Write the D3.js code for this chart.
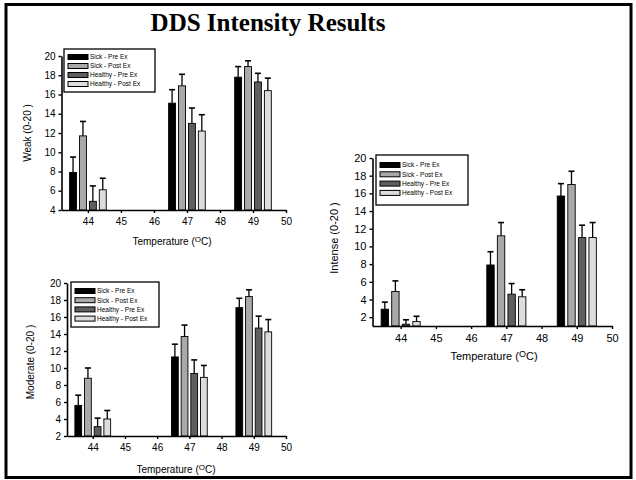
<!DOCTYPE html>
<html>
<head>
<meta charset="utf-8">
<script src="https://cdn.jsdelivr.net/npm/d3@7"></script>
<style>
body{margin:0;background:#fff}
svg{display:block;font-family:"Liberation Sans",Arial,sans-serif}
</style>
</head>
<body>
<div id="d3-container"></div>
<script>
// values
const temps = [44, 47, 49]
const groups = ["Sick - Pre Ex", "Sick - Post Ex", "Healthy - Pre Ex", "Healthy - Post Ex"]
const xTicks = [44, 45, 46, 47, 48, 49, 50]
const barOffsets = [-0.45, -0.15, 0.15, 0.45]

// rows = groups, columns = temps
const weakMeans = [
    [7.9, 15.1, 17.8],
    [11.7, 16.9, 18.9],
    [4.9, 13.0, 17.3],
    [6.1, 12.2, 16.4]
]
const weakSE = [
    [1.6, 1.4, 1.1],
    [1.5, 1.2, 0.6],
    [1.6, 1.6, 0.9],
    [1.2, 1.7, 1.3]
]
const moderateMeans = [
    [5.6, 11.3, 17.1],
    [8.8, 13.7, 18.4],
    [3.1, 9.35, 14.7],
    [4.0, 8.9, 14.25]
]
const moderateSE = [
    [1.2, 1.5, 1.1],
    [1.2, 1.35, 0.8],
    [1.0, 1.6, 1.4],
    [1.0, 1.4, 1.45]
]
const intenseMeans = [
    [2.9, 7.9, 15.7],
    [4.9, 11.2, 17.0],
    [1.2, 4.6, 11.0],
    [1.5, 4.3, 11.0]
]
const intenseSE = [
    [0.8, 1.5, 1.4],
    [1.2, 1.5, 1.5],
    [0.5, 1.2, 1.4],
    [0.6, 0.8, 1.7]
]
const weakTicks = [4, 6, 8, 10, 12, 14, 16, 18, 20]
const moderateTicks = [2, 4, 6, 8, 10, 12, 14, 16, 18, 20]
const intenseTicks = [2, 4, 6, 8, 10, 12, 14, 16, 18, 20]

const fills = ["#000000", "#a9a9a9", "#5f5f5f", "#dddddd"]

function main(){
    const width = 636
    const height = 480
    const svg = d3.select('#d3-container')
        .append('svg')
        .attr('width', width)
        .attr('height', height)

    // slide frame
    svg.append('rect')
        .attr('x', 6).attr('y', 4.5)
        .attr('width', 625).attr('height', 473)
        .attr('fill', 'none').attr('stroke', '#000').attr('stroke-width', 3)

    svg.append('text')
        .attr('x', 268).attr('y', 31)
        .attr('text-anchor', 'middle')
        .style('font-family', '"Liberation Serif","Times New Roman",serif')
        .style('font-weight', 'bold')
        .style('font-size', '25px')
        .text('DDS Intensity Results')

    drawPanel(svg, {
        x0: 61.5, x1: 286, yTop: 56, yBot: 210, yDom: [4, 20], ticks: weakTicks,
        ylabel: 'Weak (0-20 )', ylx: 31, yly: 133,
        leg: {x: 64, y: 49, w: 91, h: 43, row0: 57, step: 9},
        xtx: 172, xty: 245, fs: 10
    }, weakMeans, weakSE)

    drawPanel(svg, {
        x0: 67, x1: 286, yTop: 283, yBot: 436, yDom: [2, 20], ticks: moderateTicks,
        ylabel: 'Moderate (0-20 )', ylx: 34, yly: 362,
        leg: {x: 71, y: 282, w: 88, h: 45, row0: 291, step: 9.2},
        xtx: 176, xty: 473, fs: 10
    }, moderateMeans, moderateSE)

    drawPanel(svg, {
        x0: 372.5, x1: 612, yTop: 158, yBot: 326, yDom: [1, 20], ticks: intenseTicks,
        ylabel: 'Intense (0-20 )', ylx: 338, yly: 238,
        leg: {x: 376, y: 155, w: 92, h: 50, row0: 165, step: 9.3},
        xtx: 494, xty: 360, fs: 11
    }, intenseMeans, intenseSE)
}

function drawPanel(svg, c, means, ses){
    const x = d3.scaleLinear().domain([43.2, 50]).range([c.x0, c.x1])
    const y = d3.scaleLinear().domain(c.yDom).range([c.yBot, c.yTop])
    const bw = x(43.2 + 0.21) - x(43.2)
    const g = svg.append('g')

    // bars + error bars
    means.forEach((series, si) => {
        series.forEach((v, ti) => {
            const cx = x(temps[ti] + barOffsets[si])
            g.append('rect')
                .attr('x', cx - bw / 2)
                .attr('y', y(v))
                .attr('width', bw)
                .attr('height', y(c.yDom[0]) - y(v))
                .attr('fill', fills[si])
                .attr('stroke', '#000').attr('stroke-width', 0.9)
            const top = y(v + ses[si][ti])
            g.append('line')
                .attr('x1', cx).attr('x2', cx)
                .attr('y1', y(v)).attr('y2', top)
                .attr('stroke', '#000').attr('stroke-width', 1.3)
            g.append('line')
                .attr('x1', cx - 3).attr('x2', cx + 3)
                .attr('y1', top).attr('y2', top)
                .attr('stroke', '#000').attr('stroke-width', 1.6)
        })
    })

    const yAxis = g.append('g')
        .attr('transform', `translate(${c.x0},0)`)
        .call(d3.axisLeft(y).tickValues(c.ticks).tickFormat(d3.format('d'))
            .tickSize(3).tickSizeOuter(0).tickPadding(3))
    const xAxis = g.append('g')
        .attr('transform', `translate(0,${c.yBot})`)
        .call(d3.axisBottom(x).tickValues(xTicks).tickFormat(d3.format('d'))
            .tickSize(3).tickSizeOuter(0).tickPadding(5))
    for (let a of [yAxis, xAxis]){
        a.select('.domain').attr('stroke-width', 1.6)
        a.selectAll('.tick line').attr('stroke-width', 1.4)
        a.selectAll('text').style('font-size', c.fs + 'px').attr('fill', '#000')
            .style('font-family', '"Liberation Sans",Arial,sans-serif')
    }

    g.append('text')
        .attr('transform', `translate(${c.ylx},${c.yly}) rotate(-90)`)
        .attr('text-anchor', 'middle')
        .style('font-size', c.fs + 'px')
        .text(c.ylabel)

    const xt = g.append('text')
        .attr('x', c.xtx).attr('y', c.xty)
        .attr('text-anchor', 'middle')
        .style('font-size', c.fs + 'px')
    xt.append('tspan').text('Temperature (')
    xt.append('tspan').attr('dy', -3).style('font-size', (c.fs - 2) + 'px').text('O')
    xt.append('tspan').attr('dy', 3).text('C)')

    // legend
    const L = c.leg
    g.append('rect')
        .attr('x', L.x).attr('y', L.y).attr('width', L.w).attr('height', L.h)
        .attr('fill', '#fff').attr('stroke', '#000').attr('stroke-width', 1.3)
    groups.forEach((name, i) => {
        const ry = L.row0 + i * L.step
        g.append('rect')
            .attr('x', L.x + 4).attr('y', ry - 2.5)
            .attr('width', 20).attr('height', 5)
            .attr('fill', fills[i]).attr('stroke', '#000').attr('stroke-width', 1)
        g.append('text')
            .attr('x', L.x + 26).attr('y', ry + 2.3)
            .style('font-size', '6.5px')
            .text(name)
    })
}

main()
</script>
</body>
</html>
